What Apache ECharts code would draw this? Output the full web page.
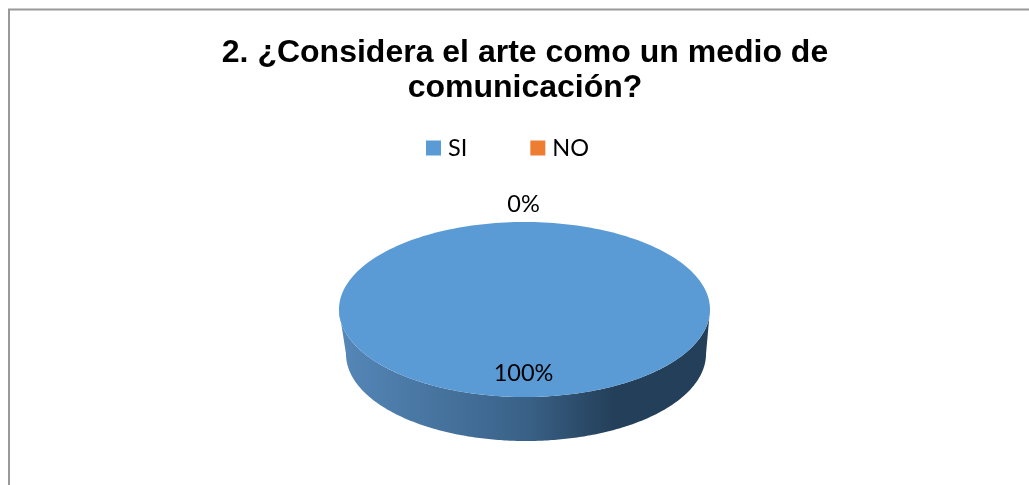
<!DOCTYPE html>
<html><head><meta charset="utf-8">
<style>html,body{margin:0;padding:0;background:#fff}#c{width:1029px;height:485px}</style>
<script src="https://cdn.jsdelivr.net/npm/echarts@6/dist/echarts.min.js"></script>
</head><body><div id="c"></div>
<script>
const categories = ['SI', 'NO'];
const values = [100, 0];
const colors = ['#5B9BD5', '#ED7D31'];
const titleText = '2. ¿Considera el arte como un medio de\ncomunicación?';

const total = values.reduce((a, b) => a + b, 0);
const top3d = { cx: 524.5, cy: 309.5, rx: 185.5, ry: 87.5 };
const low3d = { cx: 526, cy: 354, rx: 180, ry: 87 };
const pt = (e, a) => [e.cx + e.rx * Math.sin(a), e.cy - e.ry * Math.cos(a)];
const chart = echarts.init(document.getElementById('c'), null, { renderer: 'canvas' });

function sliceRender(i) {
  return function (params, api) {
    const before = values.slice(0, i).reduce((a, b) => a + b, 0);
    const val = api.value(0);
    const a0 = before / total * 2 * Math.PI;
    const a1 = (before + val) / total * 2 * Math.PI;
    const mid = (a0 + a1) / 2;
    const color = colors[i];
    const children = [];
    if (val > 0) {
      const full = val === total;
      const N = 240;
      const side = [];
      const s0 = Math.max(a0, Math.PI / 2), s1 = Math.min(a1, Math.PI * 1.5);
      if (s1 > s0) {
        for (let k = 0; k <= N; k++) side.push(pt(top3d, s0 + (s1 - s0) * k / N));
        for (let k = N; k >= 0; k--) side.push(pt(low3d, s0 + (s1 - s0) * k / N));
        children.push({
          type: 'polygon', shape: { points: side },
          style: {
            fill: new echarts.graphic.LinearGradient(0, 0, 1, 0, [
              { offset: 0, color: '#5587B8' },
              { offset: 0.5, color: '#3A6288' },
              { offset: 0.74, color: '#243F59' },
              { offset: 1, color: '#243F59' }
            ])
          }
        });
      }
      const face = [];
      for (let k = 0; k <= N; k++) face.push(pt(top3d, a0 + (a1 - a0) * k / N));
      if (!full) face.push([top3d.cx, top3d.cy]);
      children.push({ type: 'polygon', shape: { points: face }, style: { fill: color } });
    }
    const inside = val / total > 0.5;
    const f = inside ? 0.73 : 1.20;
    const lp = [top3d.cx + top3d.rx * f * Math.sin(mid) - 1, top3d.cy - top3d.ry * f * Math.cos(mid)];
    children.push({
      type: 'text', z2: 10,
      style: {
        x: lp[0], y: lp[1], text: Math.round(val / total * 100) + '%',
        font: '23.5px Lato', fill: '#000', align: 'center', verticalAlign: 'middle'
      }
    });
    return { type: 'group', children };
  };
}

chart.setOption({
  animation: false,
  backgroundColor: '#fff',
  title: {
    text: titleText, left: 520, top: 31, textAlign: 'center',
    textStyle: { fontFamily: 'Liberation Sans', fontWeight: 'bold', fontSize: 32, lineHeight: 34.5, color: '#000' }
  },
  legend: {
    data: categories, left: 421, top: 131, icon: 'rect', itemWidth: 15, itemHeight: 15, itemGap: 63,
    textStyle: { fontFamily: 'Lato', fontSize: 23.5, color: '#000', padding: [2, 0, 0, 2] }
  },
  graphic: [
    { type: 'polyline', shape: { points: [[9, 485], [9, 9.5], [1029, 9.5]] }, style: { stroke: '#999', lineWidth: 2, fill: null }, silent: true }
  ],
  series: categories.map((name, i) => ({
    type: 'custom', name, coordinateSystem: 'none',
    itemStyle: { color: colors[i] }, silent: true,
    renderItem: sliceRender(i), data: [[values[i]]]
  }))
});
</script></body></html>
